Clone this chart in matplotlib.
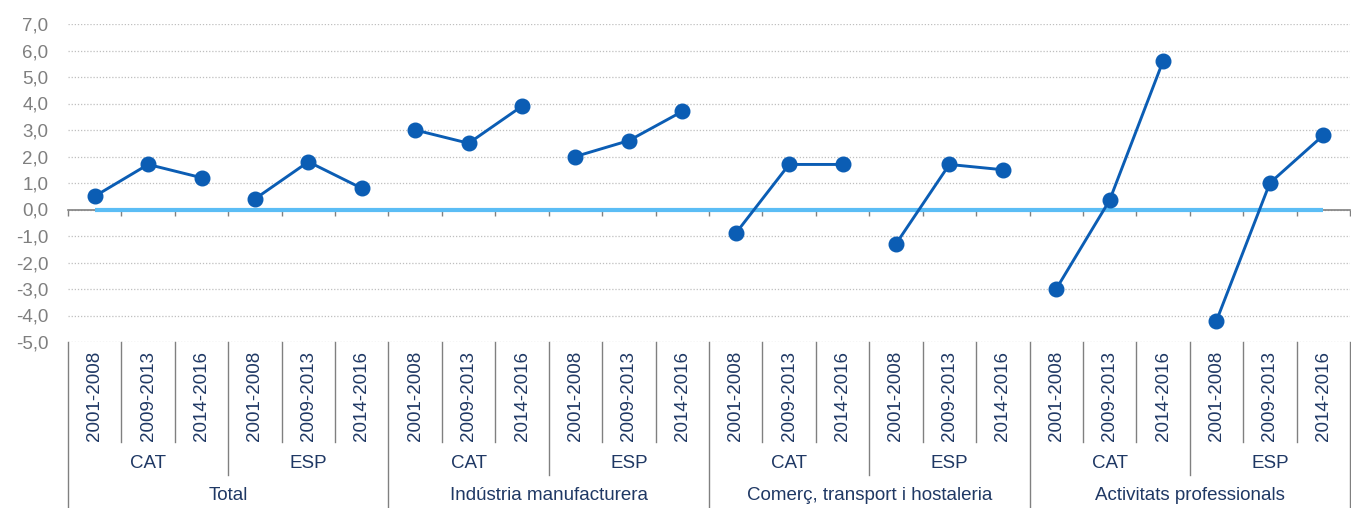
import numpy as np
import matplotlib
matplotlib.use("Agg")
import matplotlib.pyplot as plt
from matplotlib.transforms import blended_transform_factory
from matplotlib.lines import Line2D

plt.rcParams['font.family'] = ['Liberation Sans', 'DejaVu Sans']

# sectors, regions and periods of the three-level category axis
sectors = ['Total', 'Indústria manufacturera',
           'Comerç, transport i hostaleria', 'Activitats professionals']
regions = ['CAT', 'ESP']
periods = ['2001-2008', '2009-2013', '2014-2016']

# annual growth rate, one value per period, ordered sector > region > period
values = [0.5, 1.7, 1.2, 0.4, 1.8, 0.8,
          3.0, 2.5, 3.9, 2.0, 2.6, 3.7,
          -0.9, 1.7, 1.7, -1.3, 1.7, 1.5,
          -3.0, 0.35, 5.6, -4.2, 1.0, 2.8]
zero_ref = [0.0] * 24

yticks = list(range(-5, 8))
ytick_labels = ['%d,0' % v for v in yticks]

W, H = 1351, 508
fig = plt.figure(figsize=(W / 100, H / 100), dpi=100)
ax = fig.add_axes([68 / W, 1 - 342 / H, (1350 - 68) / W, (342 - 24) / H])

n = len(values)
x = np.arange(n)
blue = '#0B5DB4'
light = '#5BBDF5'
gray = '#808080'
navy = '#1F3864'

ax.set_xlim(-0.5, n - 0.5)
ax.set_ylim(-5, 7)
ax.set_yticks(yticks)
ax.set_yticklabels(ytick_labels)
ax.tick_params(axis='y', length=0, pad=14, labelsize=13.5, labelcolor='#7F7F7F')
ax.yaxis.grid(True, linestyle=(0, (1, 1.5)), color='#BFBFBF', linewidth=0.9)
ax.set_axisbelow(True)

for s in ['top', 'right', 'left']:
    ax.spines[s].set_visible(False)
ax.spines['bottom'].set_position(('data', 0))
ax.spines['bottom'].set_color(gray)
ax.spines['bottom'].set_linewidth(1.2)
ax.set_xticks(np.arange(n + 1) - 0.5)
ax.set_xticklabels([])
ax.tick_params(axis='x', length=4, width=1, color=gray, direction='out')

ax.plot(x, zero_ref, color=light, linewidth=3, solid_capstyle='butt', zorder=3)

# one connected line per region block
vals = np.array(values)
for g in range(0, n, 3):
    ax.plot(x[g:g + 3], vals[g:g + 3], color=blue, linewidth=2.1,
            marker='o', markersize=10.5, zorder=4)

# hierarchical category labels below the plot
tr = blended_transform_factory(ax.transData, fig.transFigure)
y_top = 1 - 342 / H
y_year = 1 - 442 / H
y_reg = 1 - 475 / H
y_bot = 0.0

def vline(xpos, y0):
    fig.add_artist(Line2D([xpos, xpos], [y0, y_top], transform=tr,
                          color=gray, linewidth=1))

for i in range(n + 1):
    xb = i - 0.5
    if i % 6 == 0:
        vline(xb, y_bot)
    elif i % 3 == 0:
        vline(xb, y_reg)
    else:
        vline(xb, y_year)

for i in range(n):
    fig.text(x[i], 1 - 396 / H, periods[i % 3], transform=tr, rotation=90,
             ha='center', va='center', fontsize=13.5, color=navy)

for r in range(n // 3):
    fig.text(r * 3 + 1, 1 - 463 / H, regions[r % 2], transform=tr,
             ha='center', va='center', fontsize=13.5, color=navy)

for s in range(len(sectors)):
    fig.text(s * 6 + 2.5, 1 - 496 / H, sectors[s], transform=tr,
             ha='center', va='center', fontsize=13.5, color=navy)

fig.savefig('out.png', dpi=100)
